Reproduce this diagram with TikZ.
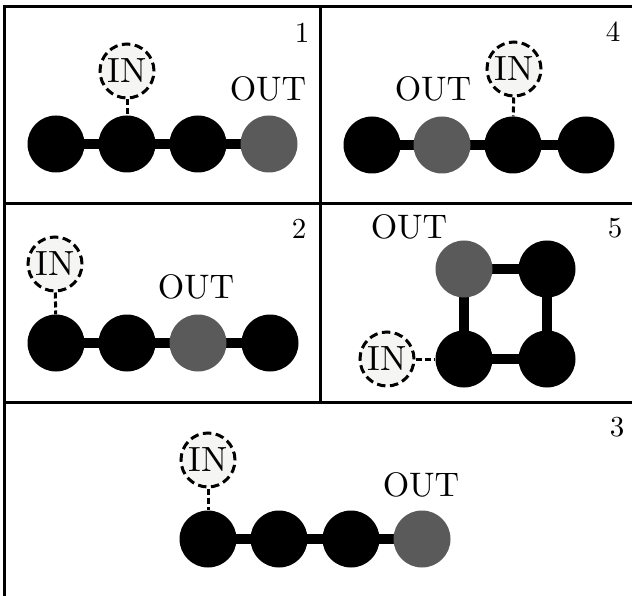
\documentclass[tikz,border=0pt]{standalone}
\usepackage{fontspec}
\setmainfont{lmroman10-regular.otf}
\pgfdeclarelayer{bg}
\pgfsetlayers{bg,main}
\begin{document}
\begin{tikzpicture}[x=1pt,y=-1pt,
  frame/.style={line width=3pt},
  blk/.style={circle,fill=black,minimum size=57pt,inner sep=0pt},
  gry/.style={circle,fill=outgray,minimum size=57pt,inner sep=0pt},
  inn/.style={circle,draw=black,dash pattern=on 8.5pt off 4.5pt,line width=3pt,fill=infill,minimum size=54pt,inner sep=0pt,font=\fontsize{35}{37}\selectfont},
  lbl/.style={inner sep=0pt,font=\fontsize{34}{36}\selectfont},
  num/.style={inner sep=0pt,font=\fontsize{29}{31}\selectfont},
  bond/.style={line width=10pt},
  link/.style={line width=3pt,dash pattern=on 6pt off 3pt}]
\definecolor{outgray}{HTML}{5A5A5A}
\definecolor{infill}{HTML}{F5F5F3}
\useasboundingbox (0,0) rectangle (632,596);
% frames
\coordinate (tl) at (4.5,7);
\coordinate (tr) at (640,7);
\coordinate (bl) at (4.5,600);
\coordinate (vt) at (320,7);
\coordinate (vb) at (320,402);
\coordinate (m1l) at (4.5,204);
\coordinate (m1r) at (640,204);
\coordinate (m2l) at (4.5,402);
\coordinate (m2r) at (640,402);
\draw[frame] (bl) -- (tl) -- (tr);
\draw[frame] (vt) -- (vb);
\draw[frame] (m1l) -- (m1r);
\draw[frame] (m2l) -- (m2r);
% panel 1
\node[num] (n1) at (302,33) {1};
\node[blk] (a1) at (56,144) {};
\node[blk] (a2) at (127,144) {};
\node[blk] (a3) at (198,144) {};
\node[gry] (a4) at (269,144) {};
\node[inn] (ain) at (127,71) {IN};
\node[lbl] (aout) at (268,89) {OUT};
\begin{pgfonlayer}{bg}
\draw[bond] (a1.center) -- (a2.center) -- (a3.center) -- (a4.center);
\end{pgfonlayer}
\draw[link] (ain) -- (a2);
% panel 4
\node[num] (n4) at (613,32) {4};
\node[blk] (d1) at (372,145) {};
\node[gry] (d2) at (442,145) {};
\node[blk] (d3) at (513,145) {};
\node[blk] (d4) at (586,145) {};
\node[inn] (din) at (514,69) {IN};
\node[lbl] (dout) at (433,89) {OUT};
\begin{pgfonlayer}{bg}
\draw[bond] (d1.center) -- (d2.center) -- (d3.center) -- (d4.center);
\end{pgfonlayer}
\draw[link] (din) -- (d3);
% panel 2
\node[num] (n2) at (299,229) {2};
\node[blk] (b1) at (56,343) {};
\node[blk] (b2) at (127,343) {};
\node[gry] (b3) at (198,343) {};
\node[blk] (b4) at (270,343) {};
\node[inn] (bin) at (55,264) {IN};
\node[lbl] (bout) at (196,287) {OUT};
\begin{pgfonlayer}{bg}
\draw[bond] (b1.center) -- (b2.center) -- (b3.center) -- (b4.center);
\end{pgfonlayer}
\draw[link] (bin) -- (b1);
% panel 5
\node[num] (n5) at (615,228) {5};
\node[gry] (e1) at (464,269) {};
\node[blk] (e2) at (547,269) {};
\node[blk] (e3) at (464,359) {};
\node[blk] (e4) at (547,359) {};
\node[inn] (ein) at (387,359) {IN};
\node[lbl] (eout) at (409,227) {OUT};
\begin{pgfonlayer}{bg}
\draw[bond] (e1.center) -- (e2.center) -- (e4.center) -- (e3.center) -- cycle;
\end{pgfonlayer}
\draw[link] (ein) -- (e3);
% panel 3
\node[num] (n3) at (617,427) {3};
\node[blk] (c1) at (208,539) {};
\node[blk] (c2) at (279,539) {};
\node[blk] (c3) at (351,539) {};
\node[gry] (c4) at (422,539) {};
\node[inn] (cin) at (208,460) {IN};
\node[lbl] (cout) at (421,485) {OUT};
\begin{pgfonlayer}{bg}
\draw[bond] (c1.center) -- (c2.center) -- (c3.center) -- (c4.center);
\end{pgfonlayer}
\draw[link] (cin) -- (c1);
\end{tikzpicture}
\end{document}
